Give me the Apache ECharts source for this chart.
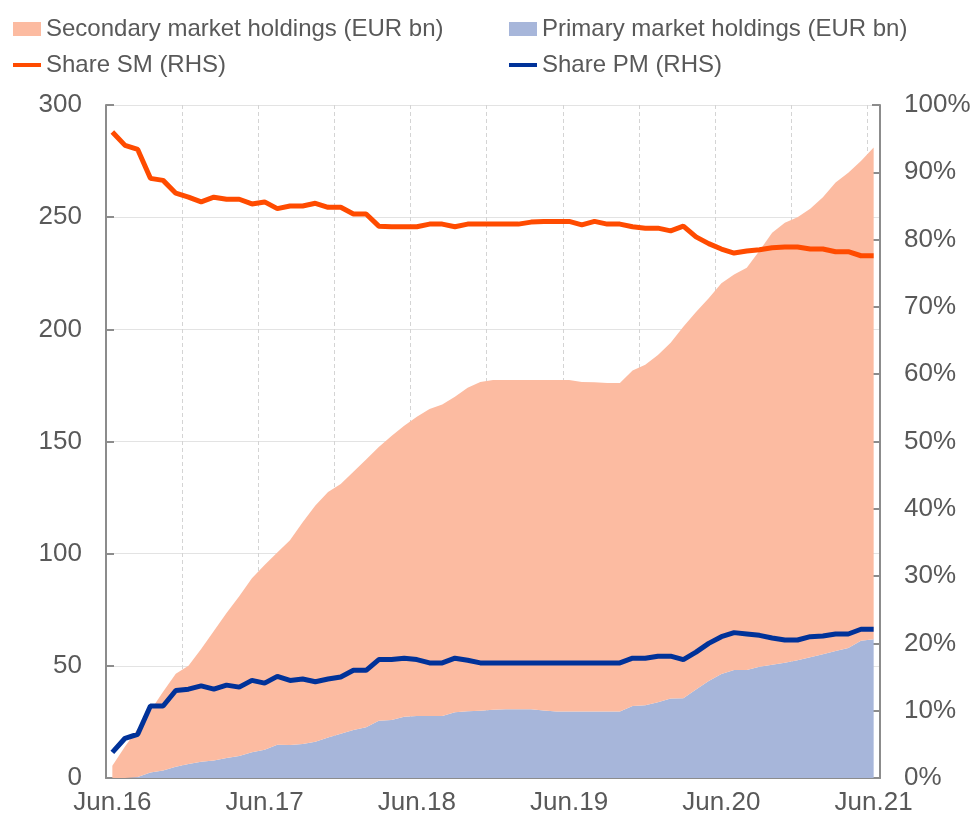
<!DOCTYPE html>
<html>
<head>
<meta charset="utf-8">
<script src="https://cdn.jsdelivr.net/npm/echarts@6/dist/echarts.min.js"></script>
<style>
  html, body { margin: 0; padding: 0; background: #fff; }
  #chart { width: 979px; height: 825px; }
</style>
</head>
<body>
<div id="chart"></div>
<script>
// monthly, Jun.16 .. Jun.21
const months = [];
const monNames = ['Jan', 'Feb', 'Mar', 'Apr', 'May', 'Jun', 'Jul', 'Aug', 'Sep', 'Oct', 'Nov', 'Dec'];
for (let y = 16; y <= 21; y++) {
  for (let m = 0; m < 12; m++) {
    if (y === 16 && m < 5) continue;
    if (y === 21 && m > 5) continue;
    months.push(monNames[m] + '.' + y);
  }
}

// EUR bn
const primaryHoldings = [
  0, 0, 0.5, 2.5, 3.3, 5.0, 6.2, 7.2, 7.8, 8.9, 9.8, 11.5,
  12.6, 14.8, 14.7, 15.2, 16.2, 18.0, 19.7, 21.4, 22.6, 25.5, 25.9, 27.3,
  27.6, 27.6, 27.6, 29.3, 29.7, 30.0, 30.4, 30.6, 30.6, 30.6, 30.1, 29.6,
  29.6, 29.6, 29.6, 29.6, 29.6, 32.1, 32.4, 33.8, 35.4, 35.5, 39.5, 43.2,
  46.4, 48.1, 48.1, 49.6, 50.5, 51.4, 52.5, 53.8, 55.2, 56.6, 58.0, 61.2,
  61.9
];
const secondaryHoldings = [
  5.5, 14, 21.5, 27.5, 35.2, 41.5, 43.8, 50.3, 57.7, 64.6, 71.2, 77.5,
  82.4, 85.7, 91.3, 98.8, 105.3, 109.5, 111.3, 115.1, 119.4, 122.0, 126.6, 129.7,
  133.4, 136.9, 138.9, 140.7, 144.3, 146.5, 147.0, 146.8, 146.8, 146.8, 147.3, 147.8,
  147.8, 146.9, 146.8, 146.5, 146.5, 149.5, 151.8, 154.8, 158.6, 165.7, 168.2, 170.7,
  174.1, 176.3, 179.4, 185.4, 192.5, 196.1, 197.5, 200.0, 203.7, 208.8, 211.8, 213.8,
  219.1
];
// shares, % (RHS)
const shareSM = [
  96.0, 94.0, 93.4, 89.1, 88.8, 86.9, 86.3, 85.6, 86.3, 86.0, 86.0, 85.3,
  85.6, 84.6, 85.0, 85.0, 85.4, 84.8, 84.8, 83.8, 83.8, 82.0, 81.9, 81.9,
  81.9, 82.3, 82.3, 81.9, 82.3, 82.3, 82.3, 82.3, 82.3, 82.6, 82.7, 82.7,
  82.7, 82.2, 82.7, 82.3, 82.3, 81.9, 81.7, 81.7, 81.3, 82.0, 80.4, 79.4,
  78.6, 78.0, 78.3, 78.5, 78.8, 78.9, 78.9, 78.6, 78.6, 78.2, 78.2, 77.6,
  77.6
];
const sharePM = [
  3.8, 5.9, 6.5, 10.7, 10.7, 13.0, 13.2, 13.7, 13.2, 13.8, 13.5, 14.5,
  14.1, 15.1, 14.5, 14.7, 14.3, 14.7, 15.0, 16.0, 16.0, 17.6, 17.6, 17.8,
  17.6, 17.1, 17.1, 17.8, 17.5, 17.1, 17.1, 17.1, 17.1, 17.1, 17.1, 17.1,
  17.1, 17.1, 17.1, 17.1, 17.1, 17.8, 17.8, 18.1, 18.1, 17.6, 18.7, 20.0,
  21.0, 21.6, 21.4, 21.2, 20.8, 20.5, 20.5, 21.0, 21.1, 21.4, 21.4, 22.1,
  22.1
];

const leftTicks = [0, 300, 50];
const rightTicks = [0, 100, 10];

const textCol = '#595959';
const axisCol = '#8c8c8c';
const font = 'Liberation Sans, Arial, sans-serif';
const lineIcon = 'path://M0,0 L28,0 L28,4 L0,4 Z';

const chart = echarts.init(document.getElementById('chart'));

const legendText = { color: textCol, fontSize: 24, fontFamily: font };

const option = {
  backgroundColor: '#fff',
  animation: false,
  legend: [{
    orient: 'vertical',
    left: 8,
    top: 12,
    itemWidth: 28,
    itemHeight: 14,
    itemGap: 12,
    textStyle: legendText,
    data: [
      { name: 'Secondary market holdings (EUR bn)', icon: 'rect' },
      { name: 'Share SM (RHS)', icon: lineIcon }
    ]
  }, {
    orient: 'vertical',
    left: 504,
    top: 12,
    itemWidth: 28,
    itemHeight: 14,
    itemGap: 12,
    textStyle: legendText,
    data: [
      { name: 'Primary market holdings (EUR bn)', icon: 'rect' },
      { name: 'Share PM (RHS)', icon: lineIcon }
    ]
  }],
  grid: { left: 106, right: 99, top: 105, bottom: 47 },
  xAxis: {
    type: 'category',
    data: months,
    boundaryGap: true,
    axisLine: { lineStyle: { color: axisCol, width: 2 } },
    axisTick: { interval: 5, length: 7, lineStyle: { color: axisCol, width: 2 } },
    axisLabel: { interval: 11, color: textCol, fontSize: 26, fontFamily: font, margin: 12 },
    splitLine: { show: true, interval: 5, lineStyle: { color: '#d4d4d4', type: [4, 3], width: 1 } }
  },
  yAxis: [{
    type: 'value',
    min: leftTicks[0],
    max: leftTicks[1],
    interval: leftTicks[2],
    axisLine: { show: true, lineStyle: { color: axisCol, width: 2 } },
    axisTick: { show: true, inside: true, length: 8, lineStyle: { color: axisCol, width: 2 } },
    axisLabel: { color: textCol, fontSize: 26, fontFamily: font, margin: 24 },
    splitLine: { show: true, lineStyle: { color: '#e3e3e3', width: 1 } }
  }, {
    type: 'value',
    position: 'right',
    min: rightTicks[0],
    max: rightTicks[1],
    interval: rightTicks[2],
    axisLine: { show: true, lineStyle: { color: axisCol, width: 2 } },
    axisTick: { show: true, inside: true, length: 8, lineStyle: { color: axisCol, width: 2 } },
    axisLabel: { color: textCol, fontSize: 26, fontFamily: font, margin: 24, formatter: '{value}%' },
    splitLine: { show: false }
  }],
  series: [{
    name: 'Primary market holdings (EUR bn)',
    type: 'line',
    stack: 'holdings',
    data: primaryHoldings,
    symbol: 'none',
    lineStyle: { width: 0 },
    itemStyle: { color: '#a7b6da' },
    areaStyle: { color: '#a7b6da', opacity: 1 },
    z: 1
  }, {
    name: 'Secondary market holdings (EUR bn)',
    type: 'line',
    stack: 'holdings',
    data: secondaryHoldings,
    symbol: 'none',
    lineStyle: { width: 0 },
    itemStyle: { color: '#fcbba1' },
    areaStyle: { color: '#fcbba1', opacity: 1 },
    z: 1
  }, {
    name: 'Share SM (RHS)',
    type: 'line',
    yAxisIndex: 1,
    data: shareSM,
    symbol: 'none',
    lineStyle: { color: '#ff4b00', width: 5 },
    itemStyle: { color: '#ff4b00' },
    z: 3
  }, {
    name: 'Share PM (RHS)',
    type: 'line',
    yAxisIndex: 1,
    data: sharePM,
    symbol: 'none',
    lineStyle: { color: '#003299', width: 5 },
    itemStyle: { color: '#003299' },
    z: 3
  }]
};

chart.setOption(option);
</script>
</body>
</html>
